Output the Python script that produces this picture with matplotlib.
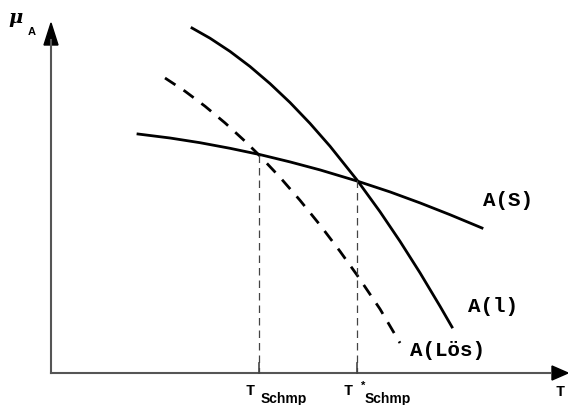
import matplotlib.pyplot as plt

# values (picture units, y grows downward)
t_s = [138, 170, 200, 230, 260, 290, 320, 357, 390, 420, 450, 482]
mu_s = [134, 138, 142.7, 148.3, 154.6, 161.9, 169.9, 181, 191.9, 202.9, 214.7, 228]

t_l = [192, 210, 230, 250, 270, 290, 310, 330, 357, 380, 400, 420, 440, 452]
mu_l = [28, 38.2, 51.4, 66.5, 83.6, 102.5, 123.4, 146.2, 180, 211.7, 241.3, 272.8, 306.2, 327]

t_los = [165, 185, 205, 225, 245, 259, 280, 300, 320, 340, 357, 380, 400]
mu_los = [78, 91.2, 106.2, 122.9, 141.2, 155, 177.3, 200.3, 225, 251.3, 275, 309, 343]

t_melt = [259, 357]
mu_melt = [155, 180]
melt_stars = ["", "*"]

curve_labels = ["A(S)", "A(l)", "A(Lös)"]
label_pos = [(483, 200), (468, 306), (410, 350)]

fig = plt.figure(figsize=(5.68, 4.05), dpi=100)
ax = fig.add_axes([0, 0, 1, 1])
ax.set_xlim(0, 568)
ax.set_ylim(405, 0)
ax.axis("off")

x0, y0 = 51, 373

# axes with arrows
ax.plot([x0, x0], [y0, 40], color="#555555", lw=1.5)
ax.plot([x0, 550], [y0, y0], color="#555555", lw=1.5)
ax.fill([x0 - 7, x0 + 7, x0], [45, 45, 23], color="black")
ax.fill([552, 552, 568], [y0 - 7, y0 + 7, y0], color="black")

ax.plot(t_s, mu_s, color="black", lw=2.0, solid_joinstyle="round")
ax.plot(t_l, mu_l, color="black", lw=2.0, solid_joinstyle="round")
ax.plot(t_los, mu_los, color="black", lw=2.0, dashes=(4.5, 3.5))

for t, m in zip(t_melt, mu_melt):
    ax.plot([t, t], [m, y0], color="#444444", lw=0.9, dashes=(6, 4))
    ax.plot([t, t], [363, y0], color="#444444", lw=1.2)

mono = dict(family="Liberation Mono", weight="bold", fontsize=15)
for lab, (x, y) in zip(curve_labels, label_pos):
    ax.text(x, y, lab, va="center", ha="left", **mono)

# melting point labels on the T axis
for t, star in zip(t_melt, melt_stars):
    ax.text(t - 14, 395, "T", family="Liberation Mono", weight="bold",
            fontsize=11, ha="left", va="baseline")
    if star:
        ax.text(t + 6, 386, star, family="Liberation Sans", weight="bold",
                fontsize=8, ha="center", va="center")
    ax.text(t + 2 + (6 if star else 0), 403, "Schmp", family="Liberation Sans",
            weight="bold", fontsize=10, ha="left", va="baseline")

ax.text(555, 396, "T", family="Liberation Mono", weight="bold", fontsize=11,
        ha="left", va="baseline")
ax.text(8, 18, "μ", family="DejaVu Serif", weight="bold", style="italic",
        fontsize=14, ha="left", va="center")
ax.text(28, 32, "A", family="Liberation Sans", weight="bold", fontsize=8,
        ha="left", va="center")

fig.savefig("out.png", dpi=100)
